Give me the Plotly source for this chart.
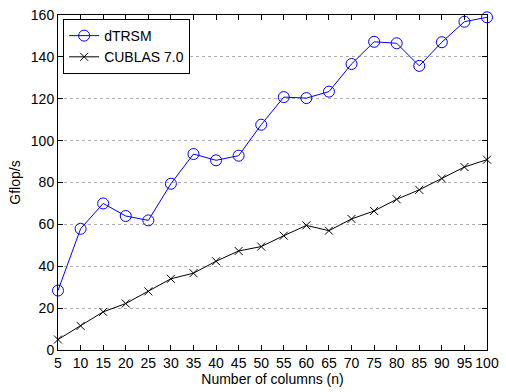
import plotly.graph_objects as go

# Number of right-hand-side columns
columns = [5, 10, 15, 20, 25, 30, 35, 40, 45, 50, 55, 60, 65, 70, 75, 80, 85, 90, 95, 100]

# Performance in Gflop/s
dtrsm = [28.4, 57.9, 70.0, 64.0, 61.9, 79.4, 93.6, 90.6, 92.8, 107.6, 120.8, 120.3, 123.4,
         136.6, 147.2, 146.5, 135.7, 147.0, 156.8, 158.9]
cublas = [5.0, 11.5, 18.2, 22.2, 28.0, 34.0, 36.7, 42.4, 47.3, 49.4, 54.6, 59.5, 57.0,
          62.6, 66.4, 72.0, 76.5, 81.9, 87.4, 90.9]

x_ticks = columns
y_ticks = [0, 20, 40, 60, 80, 100, 120, 140, 160]

FONT = "Liberation Sans, Arial, Helvetica, sans-serif"
FS = 14

fig = go.Figure()
fig.add_trace(go.Scatter(
    x=columns, y=dtrsm, name="dTRSM", mode="lines+markers",
    line=dict(color="#0000ff", width=1),
    marker=dict(symbol="circle-open", size=11, color="#0000ff", line=dict(width=1)),
    cliponaxis=False,
))
fig.add_trace(go.Scatter(
    x=columns, y=cublas, name="CUBLAS 7.0", mode="lines+markers",
    line=dict(color="#000000", width=1),
    marker=dict(symbol="x-thin-open", size=8, color="#000000", line=dict(width=1, color="#000000")),
    cliponaxis=False,
))

axis_common = dict(
    showline=True, linecolor="black", linewidth=1, mirror="ticks",
    ticks="inside", ticklen=5, tickwidth=1, tickcolor="black",
    tickfont=dict(family=FONT, size=FS, color="black"),
    ticklabeloverflow="allow",
    zeroline=False,
)

fig.update_xaxes(
    range=[5, 100], tickmode="array", tickvals=x_ticks,
    ticktext=[str(v) for v in x_ticks], showgrid=False, tickangle=0,
    title=dict(text="Number of columns (n)", font=dict(family=FONT, size=FS, color="black"), standoff=1),
    **axis_common,
)
fig.update_yaxes(
    range=[0, 160], tickmode="array", tickvals=y_ticks,
    showgrid=True, gridcolor="#b0b0b0", gridwidth=1, griddash="dot",
    title=dict(text="Gflop/s", font=dict(family=FONT, size=FS, color="black"), standoff=6),
    **axis_common,
)

fig.update_layout(
    width=506, height=392,
    margin=dict(l=58, r=11, t=7, b=42),
    paper_bgcolor="white", plot_bgcolor="white",
    font=dict(family=FONT, size=FS, color="black"),
    showlegend=True,
    legend=dict(
        x=0.012, y=0.988, xanchor="left", yanchor="top",
        bgcolor="white", bordercolor="black", borderwidth=1,
        font=dict(family=FONT, size=FS, color="black"),
        tracegroupgap=0, itemwidth=30,
    ),
)

fig.write_html("out.html")
